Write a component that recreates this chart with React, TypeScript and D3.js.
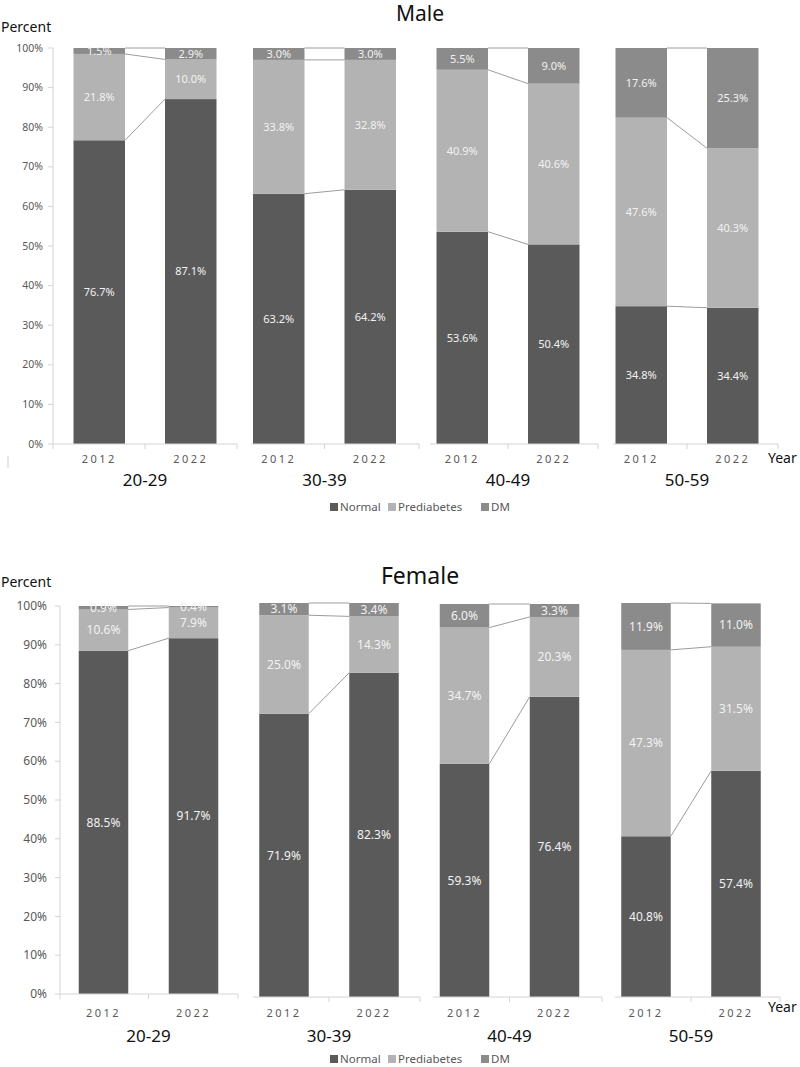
import React from "react";
import * as d3 from "d3";

const ageGroups = ["20-29", "30-39", "40-49", "50-59"];
const years = ["2012", "2022"];
const seriesNames = ["Normal", "Prediabetes", "DM"];
const yTicks = [0, 10, 20, 30, 40, 50, 60, 70, 80, 90, 100];

// Male values by age group
const maleNormal2012 = [76.7, 63.2, 53.6, 34.8];
const maleNormal2022 = [87.1, 64.2, 50.4, 34.4];
const malePre2012 = [21.8, 33.8, 40.9, 47.6];
const malePre2022 = [10.0, 32.8, 40.6, 40.3];
const maleDM2012 = [1.5, 3.0, 5.5, 17.6];
const maleDM2022 = [2.9, 3.0, 9.0, 25.3];

// Female values by age group
const femaleNormal2012 = [88.5, 71.9, 59.3, 40.8];
const femaleNormal2022 = [91.7, 82.3, 76.4, 57.4];
const femalePre2012 = [10.6, 25.0, 34.7, 47.3];
const femalePre2022 = [7.9, 14.3, 20.3, 31.5];
const femaleDM2012 = [0.9, 3.1, 6.0, 11.9];
const femaleDM2022 = [0.4, 3.4, 3.3, 11.0];

const colors: Record<string, string> = {
  Normal: "#5a5a5a",
  Prediabetes: "#b3b3b3",
  DM: "#8b8b8b",
};

type Panel = { mid: number; axisL: number; axisR: number; top: number; bottom: number };
type Layout = {
  title: string;
  titleY: number;
  titleSize: number;
  percentY: number;
  step: number;
  barW: number;
  tickLabelX: number;
  tickSize: number;
  labelSize: number;
  yearY: number;
  groupY: number;
  yearWordY: number;
  legendY: number;
  panels: Panel[];
  normal: [number[], number[]];
  pre: [number[], number[]];
  dm: [number[], number[]];
};

const layouts: Layout[] = [
  {
    title: "Male",
    titleY: 21,
    titleSize: 21,
    percentY: 32,
    step: 91.5,
    barW: 51.5,
    tickLabelX: 43,
    tickSize: 10.5,
    labelSize: 11,
    yearY: 463,
    groupY: 486,
    yearWordY: 463,
    legendY: 511,
    panels: [
      { mid: 145, axisL: 53, axisR: 237, top: 48, bottom: 444 },
      { mid: 324.5, axisL: 251, axisR: 419, top: 48, bottom: 444 },
      { mid: 508, axisL: 430, axisR: 598, top: 48, bottom: 444 },
      { mid: 687, axisL: 613, axisR: 778, top: 48, bottom: 444 },
    ],
    normal: [maleNormal2012, maleNormal2022],
    pre: [malePre2012, malePre2022],
    dm: [maleDM2012, maleDM2022],
  },
  {
    title: "Female",
    titleY: 584,
    titleSize: 23,
    percentY: 587,
    step: 90,
    barW: 49.5,
    tickLabelX: 47,
    tickSize: 12,
    labelSize: 12,
    yearY: 1017,
    groupY: 1042,
    yearWordY: 1012,
    legendY: 1063,
    panels: [
      { mid: 148.5, axisL: 60, axisR: 238, top: 606, bottom: 994 },
      { mid: 329, axisL: 253, axisR: 420, top: 603, bottom: 997 },
      { mid: 509.5, axisL: 433, axisR: 602, top: 604, bottom: 997 },
      { mid: 691, axisL: 615, axisR: 780, top: 603, bottom: 997 },
    ],
    normal: [femaleNormal2012, femaleNormal2022],
    pre: [femalePre2012, femalePre2022],
    dm: [femaleDM2012, femaleDM2022],
  },
];

const FONT = "'Noto Sans', 'Open Sans', sans-serif";
const axisColor = "#d4d4d4";
const textGray = "#595959";
const connColor = "#9c9c9c";

function GenderChart({ L }: { L: Layout }) {
  const pi = 1 - L.barW / L.step;
  const stack = d3.stack<any>().keys(seriesNames);
  const p0 = L.panels[0];
  const yAxisScale = d3.scaleLinear().domain([0, 100]).range([p0.bottom, p0.top]);

  return (
    <g>
      <text x={420} y={L.titleY} fontSize={L.titleSize} textAnchor="middle" fill="#111" fontFamily={FONT}>
        {L.title}
      </text>
      <text x={1} y={L.percentY} fontSize={14} fill="#111" fontFamily={FONT}>
        Percent
      </text>
      {/* y axis */}
      <line x1={p0.axisL} x2={p0.axisL} y1={p0.top} y2={p0.bottom} stroke={axisColor} />
      {yTicks.map((t) => (
        <g key={t}>
          <line x1={p0.axisL - 5} x2={p0.axisL} y1={yAxisScale(t)} y2={yAxisScale(t)} stroke={axisColor} />
          <text
            x={L.tickLabelX}
            y={yAxisScale(t)}
            dy="0.35em"
            fontSize={L.tickSize}
            textAnchor="end"
            fill={textGray}
            fontFamily={FONT}
          >
            {t}%
          </text>
        </g>
      ))}
      {ageGroups.map((ag, gi) => {
        const P = L.panels[gi];
        const x = d3
          .scaleBand<string>()
          .domain(years)
          .range([P.mid - L.step, P.mid + L.step])
          .paddingInner(pi)
          .paddingOuter(pi / 2);
        const y = d3.scaleLinear().domain([0, 100]).range([P.bottom, P.top]);
        const rows = years.map((yr, yi) => ({
          year: yr,
          Normal: L.normal[yi][gi],
          Prediabetes: L.pre[yi][gi],
          DM: L.dm[yi][gi],
        }));
        const stacked = stack(rows);
        const bw = x.bandwidth();
        const x1 = (x(years[0]) as number) + bw;
        const x2 = x(years[1]) as number;
        return (
          <g key={ag}>
            {/* connectors */}
            {stacked.map((s) => (
              <line
                key={"c" + s.key}
                x1={x1}
                x2={x2}
                y1={y(Math.min(100, s[0][1]))}
                y2={y(Math.min(100, s[1][1]))}
                stroke={connColor}
                strokeWidth={1}
              />
            ))}
            {stacked.map((s) =>
              s.map((d, yi) => (
                <rect
                  key={s.key + yi}
                  x={x(years[yi])}
                  y={y(Math.min(100, d[1]))}
                  width={bw}
                  height={y(d[0]) - y(Math.min(100, d[1]))}
                  fill={colors[s.key]}
                />
              ))
            )}
            {stacked.map((s) =>
              s.map((d, yi) => (
                <text
                  key={"t" + s.key + yi}
                  x={(x(years[yi]) as number) + bw / 2}
                  y={y((d[0] + Math.min(100, d[1])) / 2)}
                  dy="0.35em"
                  fontSize={L.labelSize}
                  textAnchor="middle"
                  fill="#f2f2f2"
                  fontFamily={FONT}
                >
                  {(d[1] - d[0]).toFixed(1)}%
                </text>
              ))
            )}
            {/* bottom axis */}
            <line x1={P.axisL} x2={P.axisR} y1={P.bottom} y2={P.bottom} stroke={axisColor} />
            <line x1={P.mid} x2={P.mid} y1={P.bottom} y2={P.bottom + 5} stroke={axisColor} />
            <line x1={P.axisR} x2={P.axisR} y1={P.bottom} y2={P.bottom + 5} stroke={axisColor} />
            {gi === 0 && (
              <line x1={P.axisL} x2={P.axisL} y1={P.bottom} y2={P.bottom + 5} stroke={axisColor} />
            )}
            {years.map((yr) => (
              <text
                key={"yl" + yr}
                x={(x(yr) as number) + bw / 2}
                y={L.yearY}
                fontSize={11}
                letterSpacing={2.5}
                textAnchor="middle"
                fill={textGray}
                fontFamily={FONT}
              >
                {yr}
              </text>
            ))}
            <text x={P.mid} y={L.groupY} fontSize={17} textAnchor="middle" fill="#111" fontFamily={FONT}>
              {ag}
            </text>
          </g>
        );
      })}
      <text x={768} y={L.yearWordY} fontSize={14} fill="#111" fontFamily={FONT}>
        Year
      </text>
      {/* legend */}
      {(() => {
        const starts = [330, 388, 481];
        return seriesNames.map((s, i) => (
          <g key={"lg" + s}>
            <rect x={starts[i]} y={L.legendY - 8} width={8} height={8} fill={colors[s]} />
            <text x={starts[i] + 10} y={L.legendY} fontSize={11.5} fill={textGray} fontFamily={FONT}>
              {s}
            </text>
          </g>
        ));
      })()}
    </g>
  );
}

export default function App() {
  return (
    <svg
      width={800}
      height={1067}
      style={{ position: "absolute", left: 0, top: 0, background: "#fff" }}
      xmlns="http://www.w3.org/2000/svg"
    >
      <rect width={800} height={1067} fill="#fff" />
      <line x1={8} x2={8} y1={456} y2={468} stroke="#cfcfcf" />
      {layouts.map((L) => (
        <GenderChart key={L.title} L={L} />
      ))}
    </svg>
  );
}
